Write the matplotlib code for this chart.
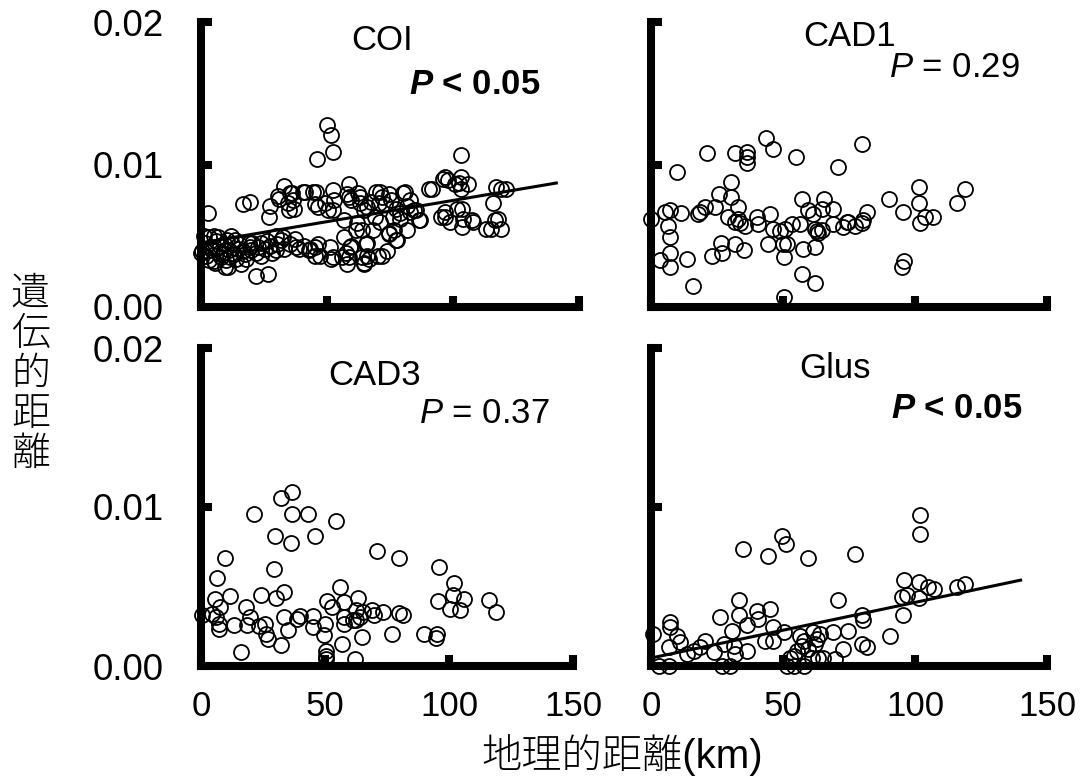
import matplotlib
matplotlib.use('Agg')
import matplotlib.pyplot as plt

plt.rcParams['font.family'] = ['Liberation Sans', 'Noto Sans CJK JP', 'DejaVu Sans']
plt.rcParams['mathtext.fontset'] = 'custom'
plt.rcParams['mathtext.rm'] = 'Liberation Sans'
plt.rcParams['mathtext.it'] = 'Liberation Sans:italic'
plt.rcParams['mathtext.bfit'] = 'Liberation Sans:italic:bold'

# ---- データ----
coi_x = [50.0, 51.5, 52.5, 46.0, 2.6, 16.8, 19.3, 27.3, 26.9, 22.0, 26.5,
         33.0, 31.0, 36.0, 36.5, 37.0, 35.0, 41.3, 45.7, 46.5, 50.5, 52.5, 52.5,
         58.6, 58.6, 63.0, 71.0, 70.6, 65.8, 56.6, 61.8, 63.8, 74.6, 56.6, 66.0,
         59.0, 51.7, 58.6, 64.6, 66.6, 71.8, 46.5, 43.0, 37.7, 32.5, 29.7, 18.9,
         13.6, 10.8, 5.6, 0.4,
         103.0, 97.0, 103.0, 100.7, 106.0, 103.0, 91.5, 117.0, 119.0, 121.0,
         116.0, 103.5, 97.0, 96.7, 99.0, 104.0, 108.0, 103.5, 118.0, 115.0, 119.0,
         87.0, 81.0, 74.6, 83.0, 84.6, 79.0, 76.6, 81.8, 77.8, 73.8,
         0.0, 3.1, 3.9, 5.3, 6.7, 7.4, 8.9, 10.3, 9.6, 11.7, 12.4, 14.6, 16.0,
         17.4, 19.3, 20.3, 21.7, 23.9, 25.3, 27.4, 29.6, 31.7, 33.1, 35.3, 37.4,
         38.9, 41.0, 43.1, 45.3, 45.3, 47.4, 51.0, 52.4, 56.0, 57.4, 59.6, 58.1,
         61.7, 63.9, 64.6, 65.3, 66.0, 70.3,
         30.4, 35.3, 34.6, 40.4, 44.6, 45.3, 49.1, 52.7, 58.1, 59.6, 62.4, 63.1,
         64.6, 67.4, 69.6, 71.7, 73.1, 75.3, 77.4, 80.3, 81.7, 83.1, 85.3, 68.9,
         71.0, 76.0, 68.1, 74.6, 77.4, 78.9, 86.7, 90.3, 96.0, 98.0, 102.4,
         95.3, 101.7, 107.4, 113.1, 116.7,
         1.5, 2.0, 4.5, 6.0, 8.0, 9.0, 11.0, 13.0, 15.0, 16.5, 18.0, 20.0, 22.5,
         24.0, 26.0, 28.0, 30.0, 1.0, 5.0, 12.0, 7.0, 10.0, 14.0, 3.0]
coi_y = [0.0128, 0.0121, 0.0109, 0.0104, 0.0066, 0.0072, 0.0074, 0.0071, 0.0063, 0.0022, 0.0023,
         0.0085, 0.0076, 0.0080, 0.0075, 0.0069, 0.0068, 0.0081, 0.0081, 0.0070, 0.0068, 0.0068, 0.0082,
         0.0086, 0.0077, 0.0077, 0.0081, 0.0073, 0.0070, 0.0061, 0.0059, 0.0054, 0.0052, 0.0049, 0.0045,
         0.0042, 0.0034, 0.0035, 0.0031, 0.0034, 0.0036, 0.0044, 0.0040, 0.0042, 0.0049, 0.0040, 0.0045,
         0.0047, 0.0028, 0.0031, 0.0039,
         0.0107, 0.0091, 0.0091, 0.0086, 0.0086, 0.0083, 0.0083, 0.0084, 0.0083, 0.0083,
         0.0073, 0.0069, 0.0067, 0.0063, 0.0060, 0.0062, 0.0060, 0.0056, 0.0062, 0.0055, 0.0055,
         0.0061, 0.0081, 0.0079, 0.0075, 0.0068, 0.0066, 0.0054, 0.0054, 0.0047, 0.0039,
         0.0038, 0.0049, 0.0042, 0.0032, 0.0049, 0.0043, 0.0038, 0.0047, 0.0028, 0.0035, 0.0044, 0.0041, 0.0030,
         0.0037, 0.0042, 0.0045, 0.0038, 0.0045, 0.0041, 0.0043, 0.0050, 0.0047, 0.0041, 0.0044, 0.0048,
         0.0041, 0.0043, 0.0041, 0.0042, 0.0036, 0.0036, 0.0042, 0.0035, 0.0035, 0.0038, 0.0043, 0.0030,
         0.0054, 0.0035, 0.0030, 0.0044, 0.0036, 0.0036,
         0.0078, 0.0080, 0.0073, 0.0081, 0.0081, 0.0072, 0.0073, 0.0075, 0.0079, 0.0075, 0.0080, 0.0073,
         0.0068, 0.0074, 0.0081, 0.0077, 0.0072, 0.0075, 0.0069, 0.0080, 0.0071, 0.0067, 0.0068, 0.0063,
         0.0060, 0.0063, 0.0054, 0.0051, 0.0047, 0.0062, 0.0061, 0.0083, 0.0090, 0.0089, 0.0087,
         0.0063, 0.0069, 0.0061, 0.0055, 0.0061,
         0.0045, 0.0036, 0.0040, 0.0046, 0.0035, 0.0044, 0.0040, 0.0037, 0.0044, 0.0039, 0.0034, 0.0040, 0.0042,
         0.0036, 0.0046, 0.0038, 0.0044, 0.0050, 0.0050, 0.0050, 0.0038, 0.0033, 0.0034, 0.0033]
coi_fit_x = [0, 141]
coi_fit_y = [0.0045, 0.0087]

cad1_x = [43.6, 46.2, 21.2, 31.8, 36.4, 36.4, 36.4, 54.9, 70.8, 9.8, 30.3, 25.8,
          30.3, 24.2, 20.5, 18.6, 17.8, 33.0, 29.2, 33.0, 33.7, 35.6, 31.8, 40.0,
          40.5, 45.0, 46.2, 48.9, 50.8, 53.4, 56.4, 57.2, 59.5, 61.4, 64.8, 65.5,
          68.9, 68.9, 72.7, 74.6, 62.1, 63.3, 62.9, 64.8, 44.3, 50.0, 51.5, 50.4,
          57.6, 62.1, 57.2, 62.1, 50.4, 35.2, 31.8, 26.5, 26.9, 23.1, 13.6, 15.9,
          7.2, 7.2, 3.4, 7.2, 6.4, 5.3, 7.2, 11.4, 0.0,
          80.0, 101.5, 119.0, 90.0, 101.5, 116.0, 95.5, 82.0, 80.3, 80.0, 74.2,
          77.3, 101.9, 103.8, 106.8, 95.0, 95.8]
cad1_y = [0.01186, 0.0111, 0.0108, 0.0108, 0.0109, 0.0105, 0.0101, 0.0105, 0.0098, 0.0095, 0.0088, 0.0079,
          0.0077, 0.0070, 0.0070, 0.0067, 0.0065, 0.0070, 0.0063, 0.0062, 0.0059, 0.0057, 0.0060, 0.0063,
          0.0058, 0.0065, 0.0055, 0.0053, 0.0055, 0.0058, 0.0058, 0.0076, 0.0068, 0.0065, 0.0069, 0.0076,
          0.0069, 0.0058, 0.0056, 0.0060, 0.0055, 0.0052, 0.0053, 0.0054, 0.0044, 0.0044, 0.0044, 0.0035,
          0.0041, 0.0042, 0.0023, 0.0017, 0.0007, 0.0040, 0.0044, 0.0045, 0.0038, 0.0036, 0.0034, 0.0015,
          0.0038, 0.0028, 0.0033, 0.0049, 0.0057, 0.0067, 0.0068, 0.0066, 0.0062,
          0.01144, 0.0084, 0.0083, 0.0076, 0.0073, 0.0073, 0.0067, 0.0067, 0.0061, 0.0059, 0.0060,
          0.0057, 0.0059, 0.0063, 0.0063, 0.0028, 0.0032]

cad3_x = [36.5, 32.2, 21.3, 36.5, 43.0, 54.6, 30.0, 36.2, 46.0, 71.0, 79.7, 96.0,
          9.7, 29.3, 6.4, 56.0, 102.0, 101.7, 106.0, 95.7, 100.6, 104.6, 116.0, 119.0,
          11.6, 5.8, 7.5, 6.0, 7.2, 7.2, 0.3, 4.6, 13.3, 18.0, 19.9, 18.4, 24.2,
          25.7, 23.2, 26.4, 27.1, 16.2, 32.2, 30.4, 33.6, 35.0, 33.6, 38.7, 40.0,
          45.0, 45.0, 49.9, 49.6, 50.3, 50.3, 50.3, 51.0, 52.8, 56.8, 57.5, 57.5,
          57.5, 61.9, 63.3, 62.6, 61.2, 62.6, 64.0, 65.5, 64.8, 69.1, 69.6, 73.4,
          77.1, 80.0, 81.4, 90.0, 95.2, 94.8]
cad3_y = [0.01096, 0.01058, 0.00957, 0.00957, 0.00957, 0.00912, 0.00818, 0.00776, 0.00818, 0.00726, 0.00679, 0.00624,
          0.00677, 0.00613, 0.00556, 0.00498, 0.00519, 0.00449, 0.00421, 0.00406, 0.00357, 0.00353, 0.00412, 0.00338,
          0.00438, 0.00423, 0.00374, 0.0031, 0.00267, 0.00235, 0.0032, 0.0033, 0.00256, 0.0037, 0.00306, 0.00256, 0.00449,
          0.00267, 0.0025, 0.00203, 0.00171, 0.00085, 0.00135, 0.00427, 0.00464, 0.00224, 0.0031, 0.00293, 0.00314,
          0.00314, 0.00246, 0.00267, 0.00192, 0.00096, 0.00064, 0.00043, 0.00406, 0.00374, 0.00139, 0.004, 0.0031,
          0.00267, 0.00043, 0.00427, 0.00353, 0.00288, 0.00288, 0.0031, 0.00342, 0.00182, 0.00353, 0.0032, 0.00342,
          0.00203, 0.00331, 0.0032, 0.00199, 0.00199, 0.00177]

glus_x = [101.9, 101.9, 49.6, 51.2, 35.0, 44.5, 59.6, 77.3, 95.8, 101.6, 105.0, 107.2,
          115.8, 119.0, 94.9, 96.8, 101.6, 95.6, 71.0, 79.8, 80.2, 90.5, 79.8, 81.7,
          74.8, 72.9, 69.1, 69.7, 33.5, 33.2, 26.0, 40.3, 44.9, 40.7, 36.3, 46.4,
          50.2, 43.3, 46.4, 36.3, 30.6, 31.3, 31.9, 27.5, 23.7, 20.6, 18.7, 16.1,
          13.6, 11.1, 9.8, 7.3, 7.3, 6.7, 0.8, 2.9, 6.7, 26.9, 30.0, 51.4, 54.0,
          57.8, 56.5, 61.5, 62.8, 57.1, 55.2, 54.0, 52.7, 60.9, 63.4, 65.3, 62.2,
          64.0, 59.6, 57.8]
glus_y = [0.00947, 0.0083, 0.0082, 0.00766, 0.00734, 0.00691, 0.00677, 0.00706, 0.00543, 0.00528, 0.00494, 0.00485,
          0.00494, 0.00517, 0.00436, 0.00447, 0.00426, 0.00319, 0.00415, 0.00319, 0.00287, 0.00191, 0.00138, 0.00117,
          0.00223, 0.00106, 0.00213, 0.00043, 0.00415, 0.00319, 0.00309, 0.00345, 0.00357, 0.00298, 0.00255, 0.00245,
          0.00213, 0.0016, 0.0016, 0.00096, 0.00223, 0.00128, 0.00074, 0.00138, 0.00085, 0.0016, 0.00117, 0.00096,
          0.00074, 0.00149, 0.00191, 0.00277, 0.00245, 0.00117, 0.00202, 0.0, 0.0, 0.0, 0.0, 0.0, 0.0,
          0.0, 0.00191, 0.00213, 0.0017, 0.00128, 0.00096, 0.00064, 0.00053, 0.00053, 0.00053, 0.00053, 0.00138,
          0.00202, 0.00106, 0.0016]
glus_fit_x = [0, 140]
glus_fit_y = [0.0005, 0.0054]

xticks = [0, 50, 100, 150]
yticks = [0.0, 0.01, 0.02]
ytick_labels = ['0.00', '0.01', '0.02']

# ---- 図 ----
W, H = 1082, 783
fig = plt.figure(figsize=(W / 100, H / 100), dpi=100)


def make_axes(left, right, top, bottom):
    return fig.add_axes([left / W, 1 - bottom / H, (right - left) / W, (bottom - top) / H])


def style(ax, show_x, show_y):
    ax.set_xlim(0, 150)
    ax.set_ylim(0, 0.02)
    ax.set_xticks(xticks)
    ax.set_yticks(yticks)
    ax.set_yticklabels(ytick_labels)
    for s in ['top', 'right']:
        ax.spines[s].set_visible(False)
    for s in ['left', 'bottom']:
        ax.spines[s].set_linewidth(5.8)
        ax.spines[s].set_capstyle('projecting')
    ax.tick_params(direction='in', length=8, width=5.8)
    ax.tick_params(axis='x', pad=17, labelsize=25, labelbottom=show_x)
    ax.tick_params(axis='y', pad=27, labelsize=26.5, labelleft=show_y)


def scatter(ax, x, y):
    ax.plot(x, y, 'o', mfc='none', mec='black', ms=10.8, mew=1.3,
            clip_on=False, zorder=3)


ax1 = make_axes(201, 579, 22, 307)
ax2 = make_axes(651, 1047, 22, 307)
ax3 = make_axes(201, 573, 348, 666)
ax4 = make_axes(651, 1047, 348, 666)

style(ax1, False, True)
style(ax2, False, False)
style(ax3, True, True)
style(ax4, True, False)

scatter(ax1, coi_x, coi_y)
ax1.plot(coi_fit_x, coi_fit_y, color='black', lw=2.2, zorder=4)
scatter(ax2, cad1_x, cad1_y)
scatter(ax3, cad3_x, cad3_y)
scatter(ax4, glus_x, glus_y)
ax4.plot(glus_fit_x, glus_fit_y, color='black', lw=2.2, zorder=4)

# パネル名と P 値
ax1.text(72, 0.0187, 'COI', ha='center', va='center', fontsize=25)
ax1.text(134.8, 0.0156, r'$\mathbfit{P}$ < 0.05', ha='right', va='center',
         fontsize=25, fontweight='bold')
ax2.text(75.4, 0.0190, 'CAD1', ha='center', va='center', fontsize=25)
ax2.text(139.8, 0.0168, r'$\mathit{P}$ = 0.29', ha='right', va='center', fontsize=25)
ax3.text(69.8, 0.0183, 'CAD3', ha='center', va='center', fontsize=25)
ax3.text(140.4, 0.0159, r'$\mathit{P}$ = 0.37', ha='right', va='center', fontsize=25)
ax4.text(69.7, 0.0187, 'Glus', ha='center', va='center', fontsize=25)
ax4.text(140.5, 0.0162, r'$\mathbfit{P}$ < 0.05', ha='right', va='center',
         fontsize=25, fontweight='bold')

# 軸ラベル
fig.text(0.028, 0.522, '遺\n伝\n的\n距\n離', ha='center', va='center',
         fontsize=28, family=['Noto Sans CJK JP'], fontweight='light',
         linespacing=1.02)
fig.text(0.575, 0.036, '地理的距離(km)', ha='center', va='center', fontsize=29,
         fontweight='light')

fig.savefig('out.png', dpi=100)
